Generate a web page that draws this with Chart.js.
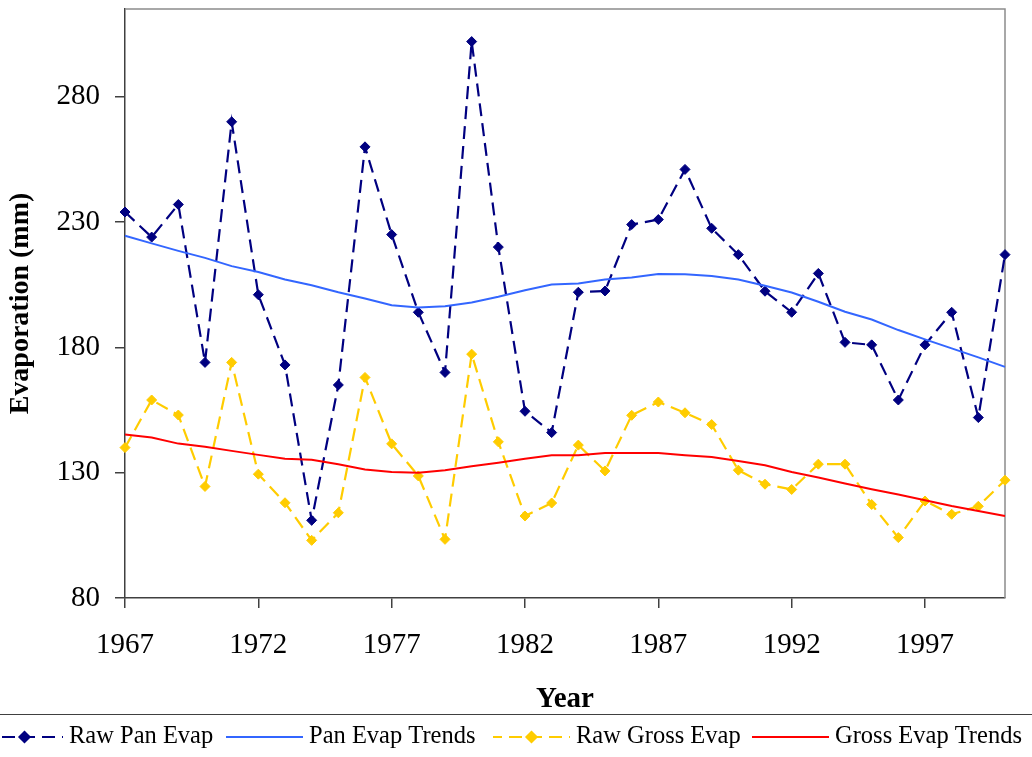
<!DOCTYPE html>
<html>
<head>
<meta charset="utf-8">
<title>Evaporation</title>
<script src="https://cdn.jsdelivr.net/npm/chart.js@4.4.1/dist/chart.umd.min.js"></script>
<style>
  html, body { margin: 0; padding: 0; background: #fff; }
  canvas { display: block; }
</style>
</head>
<body>
<canvas id="evap-chart" width="1032" height="757"></canvas>
<script>
const years = [
  1967, 1968, 1969, 1970, 1971, 1972, 1973, 1974, 1975, 1976, 1977, 1978,
  1979, 1980, 1981, 1982, 1983, 1984, 1985, 1986, 1987, 1988, 1989, 1990,
  1991, 1992, 1993, 1994, 1995, 1996, 1997, 1998, 1999, 2000
];

const rawPanEvap = [
  234, 224, 237, 174, 270, 201, 173, 111, 165, 260, 225, 194,
  170, 302, 220, 154.5, 146, 202, 202.5, 229, 231, 251, 227.5, 217,
  202.4, 194, 209.5, 182, 181, 159, 181, 194, 152, 217
];

const panEvapTrend = [
  224.5, 221.5, 218.5, 215.7, 212.4, 210.1, 207.1, 204.8, 202, 199.5, 196.8, 195.9,
  196.4, 197.9, 200.2, 202.8, 205.1, 205.5, 207.1, 207.9, 209.3, 209.2, 208.5, 207.1,
  204.6, 201.9, 198.2, 194.2, 191.1, 186.9, 183.2, 179.6, 176, 172.2
];

const rawGrossEvap = [
  140, 159, 153, 124.5, 174, 129.4, 118, 103, 114, 168, 141.5, 128.7,
  103.4, 177.3, 142.3, 112.7, 117.9, 141, 130.7, 152.9, 158.2, 153.9, 149.2, 131,
  125.4, 123.3, 133.4, 133.4, 117.3, 104.1, 118.7, 113.4, 116.6, 127
];

const grossEvapTrend = [
  145.2, 144, 141.6, 140.3, 138.7, 137.1, 135.6, 135.2, 133.4, 131.3, 130.3, 130,
  131, 132.6, 134, 135.6, 137, 137, 137.9, 137.9, 137.9, 137, 136.3, 134.7,
  133, 130.3, 128.1, 125.7, 123.4, 121.3, 119, 116.7, 114.7, 112.7
];

const xTickYears = [1967, 1972, 1977, 1982, 1987, 1992, 1997];
const yTickValues = [80, 130, 180, 230, 280];

const toPoints = (values) => values.map((v, i) => ({ x: years[i], y: v }));

Chart.defaults.font.family = '"Liberation Serif", "Times New Roman", serif';
Chart.defaults.color = "#000";

// plot frame: light grey box, axes drawn darker by the scales
const frame = {
  id: "frame",
  beforeDatasetsDraw(chart) {
    const { ctx, chartArea: a } = chart;
    ctx.save();
    ctx.strokeStyle = "#8c8c8c";
    ctx.lineWidth = 1.5;
    ctx.beginPath();
    ctx.moveTo(a.left, a.top);
    ctx.lineTo(a.right, a.top);
    ctx.lineTo(a.right, a.bottom);
    ctx.stroke();
    ctx.restore();
  },
};

// legend strip along the bottom edge
const legendX = [-14, 226, 493, 752];
const bottomLegend = {
  id: "bottomLegend",
  afterDraw(chart) {
    const { ctx } = chart;
    const y = 737;
    ctx.save();
    ctx.strokeStyle = "#404040";
    ctx.lineWidth = 1;
    ctx.beginPath();
    ctx.moveTo(0, 714.5);
    ctx.lineTo(chart.width, 714.5);
    ctx.stroke();

    chart.data.datasets.forEach((ds, i) => {
      const x0 = legendX[i];
      const x1 = x0 + 77;
      ctx.strokeStyle = ds.borderColor;
      ctx.lineWidth = ds.borderWidth;
      ctx.setLineDash(ds.borderDash || []);
      ctx.lineDashOffset = ds.borderDash ? 4 : 0;
      ctx.beginPath();
      ctx.moveTo(x0, y);
      ctx.lineTo(x1, y);
      ctx.stroke();
      ctx.setLineDash([]);
      if (ds.pointRadius > 0) {
        Chart.helpers.drawPoint(ctx, {
          pointStyle: "rectRot",
          radius: ds.pointRadius,
          borderWidth: 1,
        }, (x0 + x1) / 2, y);
        ctx.fillStyle = ds.pointBackgroundColor;
        ctx.fill();
      }
      ctx.fillStyle = "#000";
      ctx.font = '24.5px "Liberation Serif", serif';
      ctx.textBaseline = "middle";
      ctx.textAlign = "left";
      ctx.fillText(ds.label, x1 + 6, y);
    });
    ctx.restore();
  },
};

function lineSeries(label, values, color, dashed, width) {
  return {
    label: label,
    data: toPoints(values),
    borderColor: color,
    backgroundColor: color,
    pointBackgroundColor: color,
    pointBorderColor: color,
    borderWidth: width,
    borderDash: dashed ? [13, 7] : undefined,
    pointStyle: "rectRot",
    pointRadius: dashed ? 5 : 0,
    pointBorderWidth: 1,
    tension: 0,
    fill: false,
    clip: false,
  };
}

const ctx = document.getElementById("evap-chart").getContext("2d");

new Chart(ctx, {
  type: "line",
  data: {
    datasets: [
      { ...lineSeries("Raw Pan Evap", rawPanEvap, "#000080", true, 2.2), order: 4 },
      { ...lineSeries("Pan Evap Trends", panEvapTrend, "#3366ff", false, 2), order: 3 },
      { ...lineSeries("Raw Gross Evap", rawGrossEvap, "#ffcc00", true, 2.2), order: 2 },
      { ...lineSeries("Gross Evap Trends", grossEvapTrend, "#ff0000", false, 2), order: 1 },
    ],
  },
  plugins: [frame, bottomLegend],
  options: {
    responsive: false,
    animation: false,
    layout: { padding: { left: 0, right: 27, top: 9, bottom: 40 } },
    plugins: {
      legend: { display: false },
      tooltip: { enabled: false },
    },
    scales: {
      x: {
        type: "linear",
        min: 1967,
        max: 2000,
        afterBuildTicks: (scale) => {
          scale.ticks = xTickYears.map((v) => ({ value: v }));
        },
        afterFit: (scale) => {
          scale.height = 119;
          scale.paddingLeft = 0;
          scale.paddingRight = 0;
        },
        grid: { drawOnChartArea: false, tickLength: 10, color: "#404040", lineWidth: 1.5 },
        border: { color: "#404040", width: 1.5 },
        ticks: {
          font: { size: 29 },
          color: "#000",
          padding: 20,
          maxRotation: 0,
          autoSkip: false,
          callback: (v) => String(v),
        },
        title: {
          display: true,
          text: "Year",
          font: { size: 29, weight: "bold" },
          color: "#000",
          padding: 0,
        },
      },
      y: {
        min: 80,
        max: 315,
        afterBuildTicks: (scale) => {
          scale.ticks = yTickValues.map((v) => ({ value: v }));
        },
        afterFit: (scale) => {
          scale.width = 125;
          scale.paddingTop = 0;
          scale.paddingBottom = 0;
        },
        grid: { drawOnChartArea: false, tickLength: 10, color: "#404040", lineWidth: 1.5 },
        border: { color: "#404040", width: 1.5 },
        ticks: {
          font: { size: 29 },
          color: "#000",
          padding: 15,
        },
        title: {
          display: true,
          text: "Evaporation (mm)",
          font: { size: 28, weight: "bold" },
          color: "#000",
          padding: { top: 4, bottom: 0 },
        },
      },
    },
  },
});
</script>
</body>
</html>
